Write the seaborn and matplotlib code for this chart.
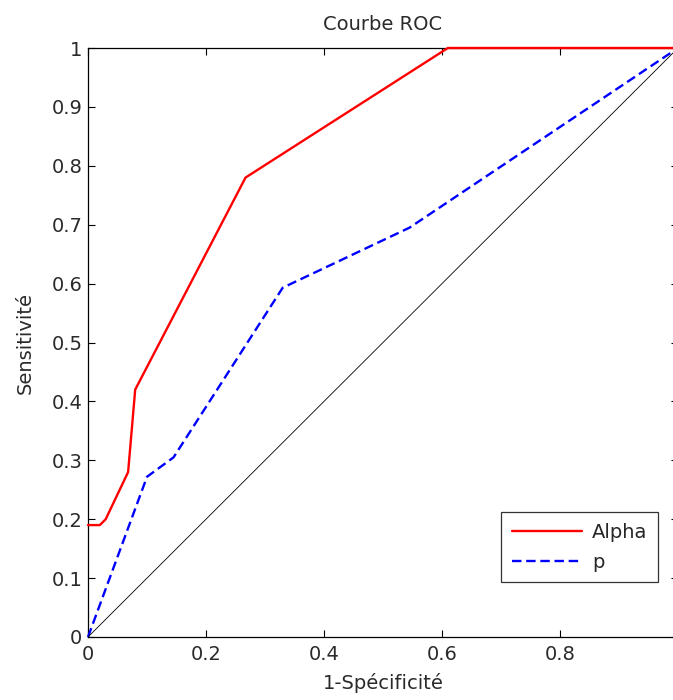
"""ROC curve: Alpha vs p."""

import matplotlib
matplotlib.use("Agg")
import matplotlib.pyplot as plt
import numpy as np
import pandas as pd
import seaborn as sns

# values
alpha_fpr = [0.0, 0.02, 0.03, 0.068, 0.08, 0.267, 0.61, 1.0]
alpha_tpr = [0.19, 0.19, 0.20, 0.28, 0.42, 0.78, 1.0, 1.0]
p_fpr = [0.0, 0.10, 0.145, 0.33, 0.545, 1.0]
p_tpr = [0.0, 0.272, 0.305, 0.593, 0.695, 1.0]
diag = [0.0, 1.0]

x_ticks = [0, 0.2, 0.4, 0.6, 0.8, 1.0]
x_ticklabels = ["0", "0.2", "0.4", "0.6", "0.8", ""]
y_ticks = np.round(np.arange(0, 1.01, 0.1), 1)
y_ticklabels = ["0"] + [f"{v:.1f}" for v in y_ticks[1:-1]] + ["1"]

sns.set_theme(style="white")
plt.rcParams["font.family"] = ["DejaVu Sans"]

FS = 14
TXT = "#2a2a2a"

alpha_df = pd.DataFrame({"fpr": alpha_fpr, "tpr": alpha_tpr})
p_df = pd.DataFrame({"fpr": p_fpr, "tpr": p_tpr})

fig = plt.figure(figsize=(6.73, 7.0), dpi=100)
ax = fig.add_axes([88 / 673, 63 / 700, 590 / 673, 589 / 700])

sns.lineplot(data=alpha_df, x="fpr", y="tpr", ax=ax, color="#ff0000",
             linewidth=1.7, label="Alpha", sort=False)
sns.lineplot(data=p_df, x="fpr", y="tpr", ax=ax, color="#0000ff",
             linewidth=1.7, linestyle=(0, (4, 2)), label="p", sort=False)
ax.plot(diag, diag, color="black", linewidth=0.6)
for ln in ax.lines:
    ln.set_clip_on(False)
    ln.set_zorder(3)

ax.set_xlim(0, 1)
ax.set_ylim(0, 1)
ax.set_xticks(x_ticks)
ax.set_xticklabels(x_ticklabels)
ax.set_yticks(y_ticks)
ax.set_yticklabels(y_ticklabels)
ax.tick_params(direction="in", length=5, width=0.8, color="black",
               labelsize=FS, labelcolor=TXT, top=True, right=True,
               bottom=True, left=True)
ax.tick_params(axis="x", pad=6)
ax.tick_params(axis="y", pad=4)
for s in ax.spines.values():
    s.set_color("black")
    s.set_linewidth(0.9)

ax.set_xlabel("1-Spécificité", fontsize=FS, color=TXT, labelpad=6)
ax.set_ylabel("Sensitivité", fontsize=FS, color=TXT, labelpad=12)
ax.set_title("Courbe ROC", fontsize=FS, color=TXT, pad=13)

leg = ax.legend(loc="lower right", bbox_to_anchor=(0.966, 0.093),
                fontsize=FS, frameon=True, fancybox=False, handlelength=3.6,
                borderpad=0.55, labelspacing=0.55, handletextpad=0.5,
                borderaxespad=0)
leg.get_frame().set_edgecolor("black")
leg.get_frame().set_linewidth(0.9)

fig.savefig("out.png", dpi=100)
plt.close(fig)
